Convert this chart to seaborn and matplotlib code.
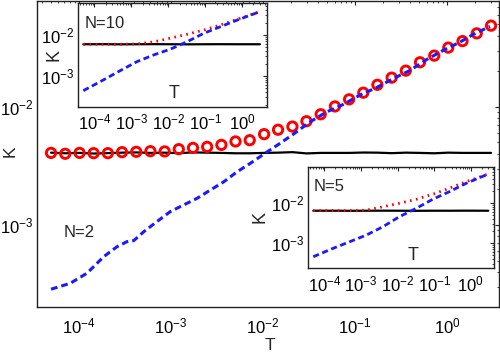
import numpy as np
import matplotlib
matplotlib.use("Agg")
import matplotlib.pyplot as plt
from matplotlib.ticker import LogLocator
import seaborn as sns

# ---- main panel data (N=2) ----
T_main = [5.00e-5, 7.13e-5, 1.02e-4, 1.45e-4, 2.07e-4, 2.95e-4, 4.21e-4, 6.00e-4,
          8.56e-4, 1.22e-3, 1.74e-3, 2.48e-3, 3.54e-3, 5.04e-3, 7.19e-3, 1.03e-2,
          1.46e-2, 2.09e-2, 2.97e-2, 4.24e-2, 6.05e-2, 8.63e-2, 0.123, 0.175,
          0.250, 0.356, 0.508, 0.725, 1.03, 1.47, 2.10, 3.00]
K_circles = [4.08e-3, 4.01e-3, 4.08e-3, 4.06e-3, 4.06e-3, 4.14e-3, 4.17e-3, 4.22e-3,
             4.20e-3, 4.39e-3, 4.50e-3, 4.59e-3, 4.77e-3, 5.10e-3, 5.23e-3, 5.88e-3,
             6.41e-3, 6.82e-3, 7.57e-3, 8.67e-3, 1.01e-2, 1.16e-2, 1.32e-2, 1.54e-2,
             1.77e-2, 2.03e-2, 2.39e-2, 2.72e-2, 3.18e-2, 3.61e-2, 4.20e-2, 4.88e-2]
K_black = [4.10e-3, 4.05e-3, 4.08e-3, 4.03e-3, 4.06e-3, 4.10e-3, 4.12e-3, 4.08e-3,
           4.10e-3, 4.06e-3, 4.12e-3, 4.10e-3, 4.08e-3, 4.05e-3, 4.05e-3, 4.08e-3,
           4.10e-3, 4.14e-3, 4.04e-3, 4.08e-3, 4.08e-3, 4.08e-3, 4.11e-3, 4.10e-3,
           4.06e-3, 4.10e-3, 4.08e-3, 4.05e-3, 4.10e-3, 4.08e-3, 4.08e-3, 4.08e-3]
T_blue = [5.00e-5, 8.1e-5, 1.23e-4, 1.87e-4, 2.61e-4, 3.34e-4, 3.95e-4, 5.08e-4,
          7.08e-4, 9.88e-4, 1.38e-3, 1.92e-3, 2.69e-3, 3.75e-3, 5.23e-3, 7.30e-3,
          1.02e-2, 1.53e-2, 2.14e-2, 3.24e-2, 4.93e-2, 7.46e-2, 0.113, 0.172,
          0.261, 0.396, 0.600, 0.910, 1.38, 1.93, 2.92]
K_blue = [2.86e-4, 3.21e-4, 3.91e-4, 5.40e-4, 6.56e-4, 7.23e-4, 7.37e-4, 8.77e-4,
          1.07e-3, 1.30e-3, 1.48e-3, 1.68e-3, 1.98e-3, 2.32e-3, 2.82e-3, 3.33e-3,
          3.98e-3, 4.91e-3, 5.88e-3, 7.46e-3, 9.08e-3, 1.05e-2, 1.26e-2, 1.46e-2,
          1.74e-2, 2.04e-2, 2.52e-2, 3.02e-2, 3.54e-2, 4.12e-2, 4.81e-2]

# ---- inset data ----
T_inset = [5.0e-5, 1.74e-4, 5.0e-4, 1.41e-3, 3.98e-3, 1.12e-2, 3.24e-2, 9.12e-2, 0.257, 0.741, 3.0]
# N=10
K10_black = [5.93e-3, 5.95e-3, 5.90e-3, 5.93e-3, 5.96e-3, 5.93e-3, 5.90e-3, 5.93e-3, 5.95e-3, 5.93e-3, 5.93e-3]
K10_red = [5.93e-3, 5.93e-3, 5.93e-3, 6.03e-3, 6.75e-3, 8.32e-3, 1.04e-2, 1.32e-2, 1.75e-2, 2.42e-2, 3.70e-2]
K10_blue = [4.38e-4, 7.98e-4, 1.35e-3, 2.23e-3, 3.25e-3, 4.48e-3, 6.87e-3, 1.10e-2, 1.59e-2, 2.32e-2, 3.70e-2]
# N=5
K5_black = [6.41e-3, 6.41e-3, 6.38e-3, 6.41e-3, 6.43e-3, 6.41e-3, 6.38e-3, 6.41e-3, 6.41e-3, 6.43e-3, 6.41e-3]
K5_red = [6.45e-3, 6.45e-3, 6.45e-3, 6.60e-3, 8.07e-3, 9.82e-3, 1.24e-2, 1.65e-2, 2.33e-2, 3.40e-2, 5.31e-2]
K5_blue = [4.54e-4, 7.36e-4, 1.08e-3, 1.58e-3, 2.55e-3, 4.54e-3, 7.36e-3, 1.24e-2, 1.91e-2, 3.10e-2, 5.31e-2]

sns.set_style("white")
plt.rcParams['font.family'] = ['Liberation Sans', 'DejaVu Sans']
plt.rcParams['axes.unicode_minus'] = False

BLUE = '#1a1aff'
RED = '#ff0000'
DASH = (0, (2.2, 1.3))


def style_axes(ax, pad_x, pad_y):
    ax.set_xscale('log')
    ax.set_yscale('log')
    for s in ax.spines.values():
        s.set_visible(True)
        s.set_color('#222222')
        s.set_linewidth(1.0)
    ax.tick_params(which='both', direction='in', top=True, right=True,
                   colors='#222222', labelcolor='black', labelsize=12)
    ax.tick_params(which='major', length=3.2, width=0.8)
    ax.tick_params(which='minor', length=1.6, width=0.6)
    ax.tick_params(axis='x', which='major', pad=pad_x)
    ax.tick_params(axis='y', which='major', pad=pad_y)
    for axis in (ax.xaxis, ax.yaxis):
        axis.set_major_locator(LogLocator(base=10, numticks=20))
        axis.set_minor_locator(LogLocator(base=10, subs=np.arange(2, 10), numticks=20))


fig = plt.figure(figsize=(5, 3.53), dpi=100)

# ---- main panel ----
ax = fig.add_axes([0.074, 0.1295, 0.924, 0.868])
style_axes(ax, 6.5, 2.5)
sns.lineplot(x=T_main, y=K_black, ax=ax, color='black', lw=1.6, sort=False, estimator=None)
sns.scatterplot(x=T_main, y=K_circles, ax=ax, s=45, facecolors='none',
                edgecolor=RED, linewidth=2.1, zorder=3)
sns.lineplot(x=T_blue, y=K_blue, ax=ax, color=BLUE, lw=2.2, linestyle=DASH,
             sort=False, estimator=None, zorder=4)
ax.set_xlim(3.52e-5, 3.66)
ax.set_ylim(2.01e-4, 7.91e-2)
ax.set_xlabel('T', fontsize=12.5)
ax.set_ylabel('K', fontsize=12.5)
ax.xaxis.set_label_coords(0.505, -0.099)
ax.yaxis.set_label_coords(-0.041, 0.51)
ax.text(0.058, 0.245, 'N=2', transform=ax.transAxes, fontsize=12, va='center', ha='left')

# ---- insets ----
insets = [
    ([0.1566, 0.6977, 0.3768, 0.2946], (3.66e-5, 4.55), (1.78e-4, 6.1e-2),
     K10_black, K10_red, K10_blue, 'N=10', (0.036, 0.80), (-0.13, 0.50), (0.508, 0.125)),
    ([0.6166, 0.2399, 0.372, 0.2861], (3.66e-5, 4.38), (2.33e-4, 7.8e-2),
     K5_black, K5_red, K5_blue, 'N=5', (0.027, 0.808), (-0.26, 0.51), (0.563, 0.122)),
]
for pos, xl, yl, kb, kr, kbl, lab, lab_xy, klab, tlab in insets:
    ia = fig.add_axes(pos)
    ia.set_facecolor('white')
    style_axes(ia, 4.5, 3)
    sns.lineplot(x=T_inset, y=kb, ax=ia, color='black', lw=1.6, sort=False, estimator=None)
    sns.lineplot(x=T_inset, y=kr, ax=ia, color=RED, lw=2.0, linestyle=(0, (0.6, 1.6)),
                 sort=False, estimator=None)
    sns.lineplot(x=T_inset, y=kbl, ax=ia, color=BLUE, lw=2.0, linestyle=DASH,
                 sort=False, estimator=None)
    ia.set_xlim(*xl)
    ia.set_ylim(*yl)
    ia.set_xlabel('')
    ia.set_ylabel('')
    ia.text(*lab_xy, lab, transform=ia.transAxes, fontsize=12, va='center', ha='left')
    ia.text(*klab, 'K', transform=ia.transAxes, fontsize=13, va='center', ha='center',
            rotation=90)
    ia.text(*tlab, 'T', transform=ia.transAxes, fontsize=13, va='center', ha='center')

plt.savefig('out.png', dpi=100)
